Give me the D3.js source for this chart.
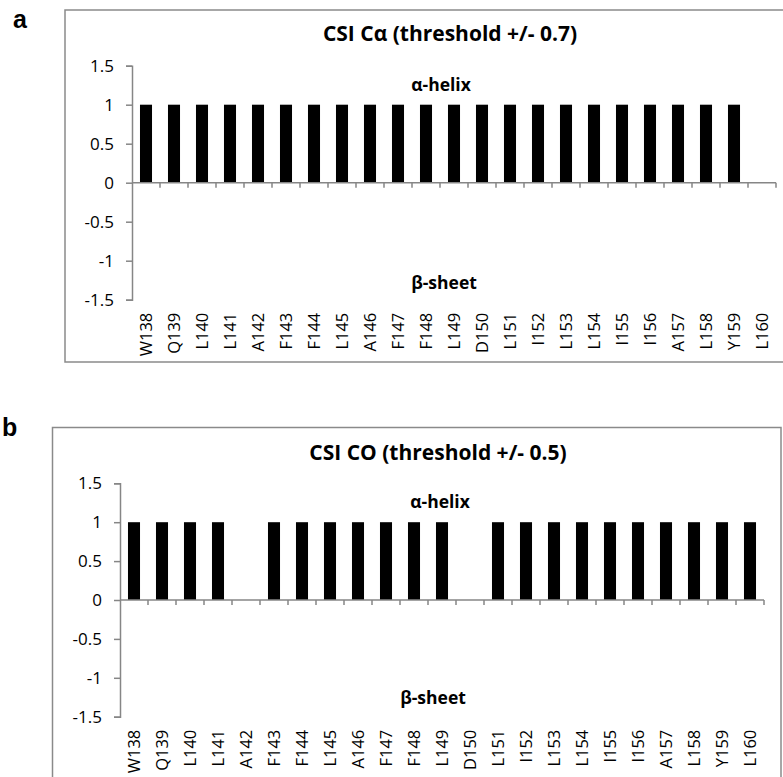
<!DOCTYPE html>
<html>
<head>
<meta charset="utf-8">
<script src="https://cdn.jsdelivr.net/npm/d3@7"></script>
<style>
  html, body { margin: 0; padding: 0; background: #fff; }
  svg { display: block; }
  text { font-family: "Open Sans", "Noto Sans", sans-serif; fill: #000; }
</style>
</head>
<body>
<script>
// ---- data ----
const residues = ["W138","Q139","L140","L141","A142","F143","F144","L145","A146","F147","F148","L149","D150","L151","I152","L153","L154","I155","I156","A157","L158","Y159","L160"];
const csiCa = [1,1,1,1,1,1,1,1,1,1,1,1,1,1,1,1,1,1,1,1,1,1,0];
const csiCO = [1,1,1,1,0,1,1,1,1,1,1,1,0,1,1,1,1,1,1,1,1,1,1];
const yTicks = [-1.5,-1,-0.5,0,0.5,1,1.5];
const titles = ["CSI C\u03B1 (threshold +/- 0.7)", "CSI CO (threshold +/- 0.5)"];
const panelLetters = ["a","b"];
const helixLabel = "\u03B1-helix";
const sheetLabel = "\u03B2-sheet";

const W = 783, H = 777;
const svg = d3.select("body").append("svg").attr("width", W).attr("height", H);
svg.append("rect").attr("width", W).attr("height", H).attr("fill", "#fff");

const axisColor = "#868686";
const frameColor = "#8a8a8a";

const panels = [
  { values: csiCa, title: titles[0], letter: panelLetters[0],
    frame: {x: 65, y: 10, w: 740, h: 352}, letterPos: {x: 13, y: 28},
    x0: 132, x1: 776, yTop: 65.7, yBot: 299.7,
    titleY: 41, helix: {x: 441, y: 91}, sheet: {x: 444, y: 289} },
  { values: csiCO, title: titles[1], letter: panelLetters[1],
    frame: {x: 52.5, y: 427.5, w: 728.5, h: 400}, letterPos: {x: 2, y: 436},
    x0: 120, x1: 764, yTop: 483.3, yBot: 716.7,
    titleY: 460, helix: {x: 440, y: 508}, sheet: {x: 433, y: 704} }
];

panels.forEach(p => {
  const g = svg.append("g");
  // frame
  g.append("rect").attr("x", p.frame.x).attr("y", p.frame.y)
    .attr("width", p.frame.w).attr("height", p.frame.h)
    .attr("fill", "none").attr("stroke", frameColor).attr("stroke-width", 1.5);
  // panel letter
  g.append("text").attr("x", p.letterPos.x).attr("y", p.letterPos.y)
    .style("font-family", "Liberation Sans, Arial, sans-serif")
    .style("font-weight", "bold").style("font-size", "25px").text(p.letter);

  const x = d3.scaleBand().domain(residues).range([p.x0, p.x1])
    .paddingInner(0.57).paddingOuter(0.285);
  const y = d3.scaleLinear().domain([-1.5, 1.5]).range([p.yBot, p.yTop]);

  // bars
  g.append("g").selectAll("rect").data(residues.map((r, i) => ({r, v: p.values[i]})))
    .join("rect")
    .attr("x", d => x(d.r)).attr("width", x.bandwidth())
    .attr("y", d => y(Math.max(0, d.v)))
    .attr("height", d => Math.abs(y(d.v) - y(0)))
    .attr("fill", "#000");

  // y axis
  const yAxis = d3.axisLeft(y).tickValues(yTicks).tickSize(6).tickPadding(12)
    .tickFormat(d => String(d));
  const ya = g.append("g").attr("transform", `translate(${p.x0},0)`).call(yAxis);
  ya.select(".domain").attr("stroke", axisColor).attr("stroke-width", 1.5);
  ya.selectAll(".tick line").attr("stroke", axisColor).attr("stroke-width", 1.5);
  ya.selectAll(".tick text").style("font-family", "Open Sans").style("font-size", "17px").attr("fill", "#000");

  // x axis at zero: line + ticks at band boundaries
  const step = x.step();
  const xa = g.append("g");
  xa.append("line").attr("x1", p.x0).attr("x2", p.x1).attr("y1", y(0)).attr("y2", y(0))
    .attr("stroke", axisColor).attr("stroke-width", 1.5);
  const bounds = residues.map(r => x(r) - (step - x.bandwidth()) / 2).slice(1).concat([p.x1]);
  xa.selectAll("line.tk").data(bounds).join("line").attr("class", "tk")
    .attr("x1", d => d).attr("x2", d => d).attr("y1", y(0)).attr("y2", y(0) + 5)
    .attr("stroke", axisColor).attr("stroke-width", 1.5);

  // category labels (rotated) below the plot
  g.append("g").selectAll("text").data(residues).join("text")
    .attr("transform", d => `translate(${x(d) + x.bandwidth() / 2 + 6},${p.yBot + 13}) rotate(-90)`)
    .attr("text-anchor", "end")
    .style("font-size", "16.5px")
    .text(d => d);

  // title and annotations
  g.append("text").attr("x", (p.x0 + p.x1) / 2 - 4).attr("y", p.titleY)
    .attr("text-anchor", "middle").style("font-weight", "bold").style("font-size", "21px")
    .text(p.title);
  g.append("text").attr("x", p.helix.x).attr("y", p.helix.y)
    .attr("text-anchor", "middle").style("font-weight", "bold").style("font-size", "17.5px")
    .text(helixLabel);
  g.append("text").attr("x", p.sheet.x).attr("y", p.sheet.y)
    .attr("text-anchor", "middle").style("font-weight", "bold").style("font-size", "17.5px")
    .text(sheetLabel);
});
</script>
</body>
</html>
